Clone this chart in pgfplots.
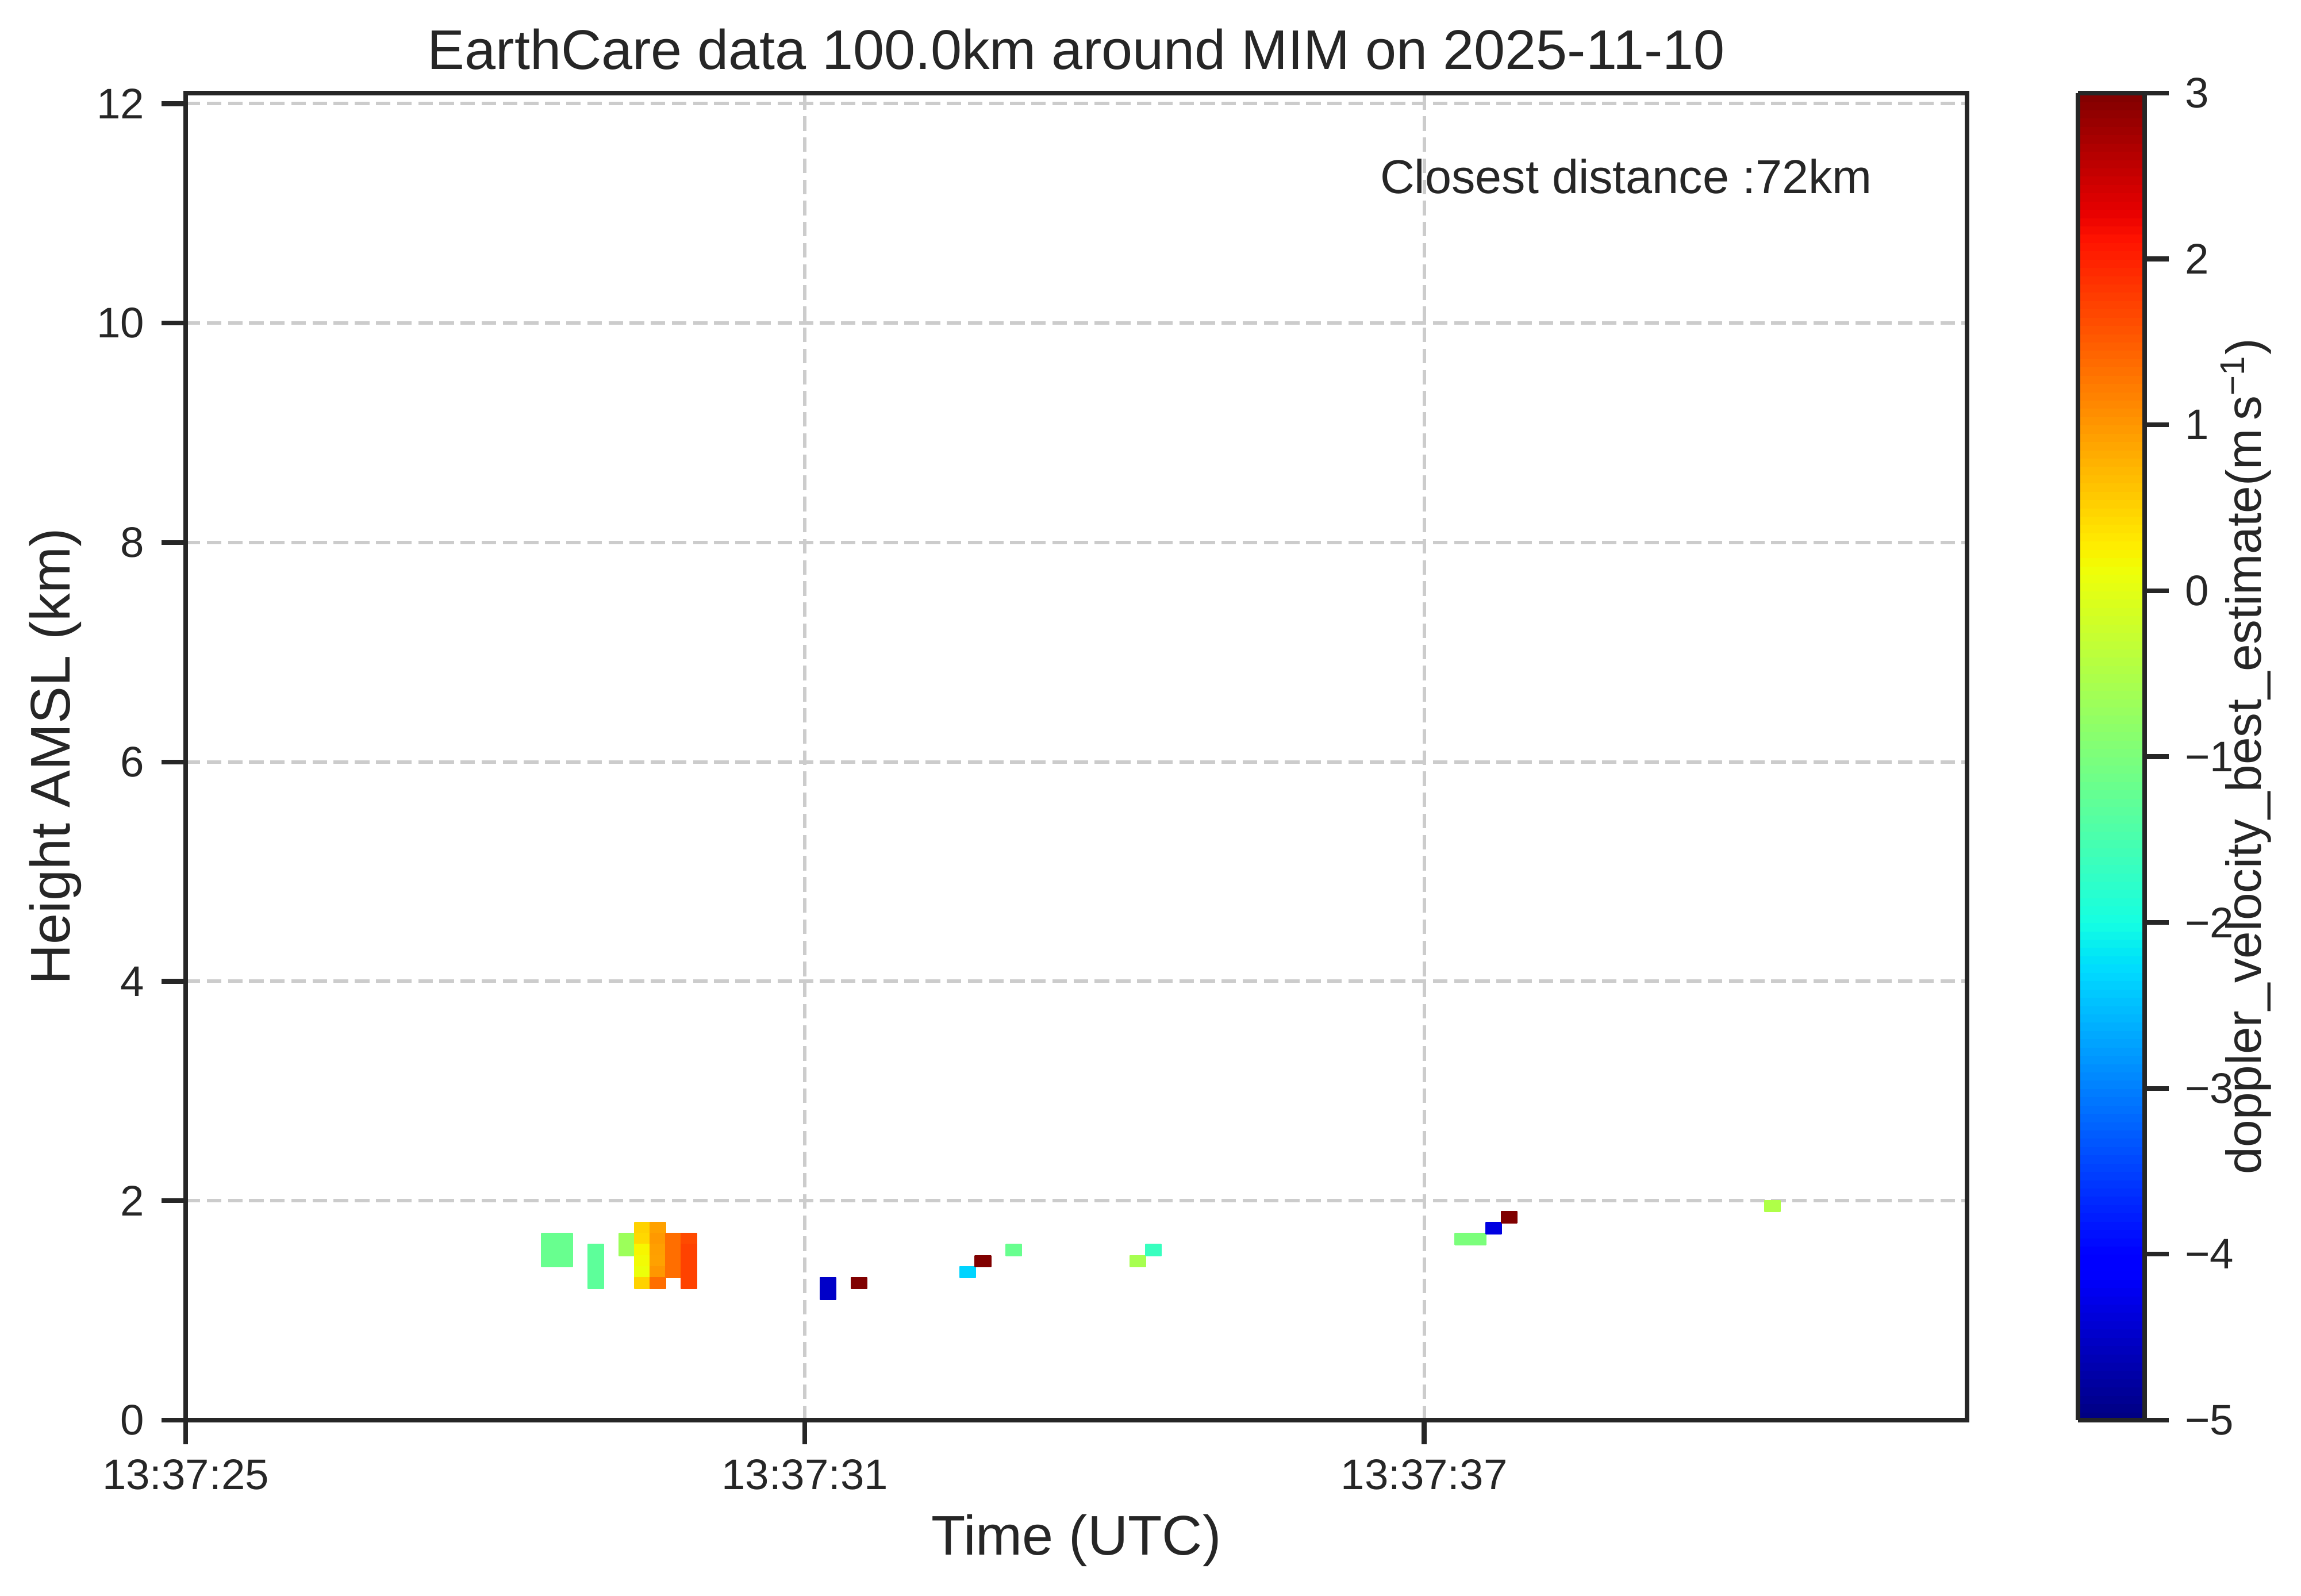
\documentclass[border=0pt]{standalone}
\usepackage{fontspec}
\setmainfont{Liberation Sans}
\usepackage{pgfplots}
\usepgfplotslibrary{patchplots}
\pgfplotsset{compat=1.18}
\definecolor{axcol}{HTML}{262626}
\definecolor{gridcol}{HTML}{CCCCCC}
\newcommand\ticksize{\fontsize{13.4pt}{16pt}\selectfont}
\newcommand\labsize{\fontsize{17.5pt}{21pt}\selectfont}
\newcommand\annsize{\fontsize{14.9pt}{18pt}\selectfont}
\newcommand\cbsize{\fontsize{15.4pt}{19pt}\selectfont}
\pgfplotsset{
  colormap={mjet}{rgb(0pt)=(0,0,0.5); rgb(11pt)=(0,0,1); rgb(12.5pt)=(0,0,1);
    rgb(34pt)=(0,0.86,1); rgb(35pt)=(0,0.9,0.968); rgb(37.5pt)=(0.081,1,0.887);
    rgb(64pt)=(0.935,1,0.032); rgb(65pt)=(0.968,0.963,0); rgb(66pt)=(1,0.926,0);
    rgb(89pt)=(1,0.074,0); rgb(91pt)=(0.909,0,0); rgb(100pt)=(0.5,0,0)}
}
\pgfplotstableread{
t h c
3.45 1.4 -1.19
3.75 1.4 -1.19
3.75 1.7 -1.19
3.45 1.7 -1.19
3.90 1.2 -1.30
4.05 1.2 -1.30
4.05 1.6 -1.30
3.90 1.6 -1.30
4.20 1.5 -0.68
4.35 1.5 -0.68
4.35 1.7 -0.68
4.20 1.7 -0.68
4.35 1.7 0.50
4.50 1.7 0.50
4.50 1.8 0.50
4.35 1.8 0.50
4.35 1.6 0.45
4.50 1.6 0.45
4.50 1.7 0.45
4.35 1.7 0.45
4.35 1.5 0.20
4.50 1.5 0.20
4.50 1.6 0.20
4.35 1.6 0.20
4.35 1.4 0.15
4.50 1.4 0.15
4.50 1.5 0.15
4.35 1.5 0.15
4.35 1.3 0.10
4.50 1.3 0.10
4.50 1.4 0.10
4.35 1.4 0.10
4.35 1.2 0.50
4.50 1.2 0.50
4.50 1.3 0.50
4.35 1.3 0.50
4.50 1.7 0.92
4.65 1.7 0.92
4.65 1.8 0.92
4.50 1.8 0.92
4.50 1.6 0.98
4.65 1.6 0.98
4.65 1.7 0.98
4.50 1.7 0.98
4.50 1.5 0.93
4.65 1.5 0.93
4.65 1.6 0.93
4.50 1.6 0.93
4.50 1.4 0.92
4.65 1.4 0.92
4.65 1.5 0.92
4.50 1.5 0.92
4.50 1.3 1.00
4.65 1.3 1.00
4.65 1.4 1.00
4.50 1.4 1.00
4.50 1.2 1.35
4.65 1.2 1.35
4.65 1.3 1.35
4.50 1.3 1.35
4.65 1.3 1.35
4.80 1.3 1.35
4.80 1.7 1.35
4.65 1.7 1.35
4.80 1.6 1.65
4.95 1.6 1.65
4.95 1.7 1.65
4.80 1.7 1.65
4.80 1.2 1.72
4.95 1.2 1.72
4.95 1.6 1.72
4.80 1.6 1.72
6.15 1.1 -4.50
6.30 1.1 -4.50
6.30 1.3 -4.50
6.15 1.3 -4.50
6.45 1.2 3.00
6.60 1.2 3.00
6.60 1.3 3.00
6.45 1.3 3.00
7.50 1.3 -2.34
7.65 1.3 -2.34
7.65 1.4 -2.34
7.50 1.4 -2.34
7.65 1.4 3.00
7.80 1.4 3.00
7.80 1.5 3.00
7.65 1.5 3.00
7.95 1.5 -1.19
8.10 1.5 -1.19
8.10 1.6 -1.19
7.95 1.6 -1.19
9.15 1.4 -0.58
9.30 1.4 -0.58
9.30 1.5 -0.58
9.15 1.5 -0.58
9.30 1.5 -1.66
9.45 1.5 -1.66
9.45 1.6 -1.66
9.30 1.6 -1.66
12.30 1.6 -1.00
12.60 1.6 -1.00
12.60 1.7 -1.00
12.30 1.7 -1.00
12.60 1.7 -4.33
12.75 1.7 -4.33
12.75 1.8 -4.33
12.60 1.8 -4.33
12.75 1.8 3.00
12.90 1.8 3.00
12.90 1.9 3.00
12.75 1.9 3.00
15.30 1.9 -0.50
15.45 1.9 -0.50
15.45 2.0 -0.50
15.30 2.0 -0.50
}\cells
\begin{document}
\begin{tikzpicture}
\useasboundingbox (-58.14pt,-55.08pt) rectangle (662.40pt,444.78pt);
\begin{axis}[
  at={(0pt,0pt)}, anchor=south west,
  scale only axis, width=557.82pt, height=415.62pt,
  xmin=0, xmax=17.26, ymin=0, ymax=12.097,
  clip=false,
  axis line style={draw=axcol, line width=1.5pt},
  tick pos=left, tick align=outside,
  major tick length=7.56pt, minor tick num=0,
  tick style={draw=axcol, line width=1.5pt},
  xtick={0,6,12}, xticklabels={13:37:25,13:37:31,13:37:37},
  ytick={0,2,4,6,8,10,12}, yticklabels={0,2,4,6,8,10,12},
  xticklabel style={font=\ticksize, text=axcol, anchor=north, inner sep=0pt, yshift=-4.5pt},
  yticklabel style={font=\ticksize, text=axcol, anchor=east, inner sep=0pt, xshift=-5.2pt},
  grid=major,
  major grid style={draw=gridcol, line width=1.08pt, dash pattern=on 4.55pt off 2.07pt},
  colormap name=mjet, point meta min=-5, point meta max=3,
  colorbar sampled,
  colorbar style={
    at={(parent axis.north east)}, anchor=north west, xshift=26.2pt,
    width=20.88pt,
    samples=161,
    ytick={-5,-4,-3,-2,-1,0,1,2,3},
    yticklabels={−5,−4,−3,−2,−1,0,1,2,3},
    axis line style={draw=axcol, line width=1.5pt},
    major tick length=7.56pt, tick align=outside,
    ytick pos=right, yticklabel pos=right,
    ytick style={draw=axcol, line width=1.5pt},
    yticklabel style={font=\ticksize, text=axcol, anchor=west, inner sep=0pt, xshift=4.86pt},
  },
]
\addplot[patch, patch type=rectangle, shader=flat, point meta=explicit]
  table[x=t, y=h, meta=c] {\cells};
\end{axis}
\node[anchor=base, text=axcol, font=\labsize, inner sep=0pt] at (278.91pt,423.05pt) {EarthCare data 100.0km around MIM on 2025-11-10};
\node[anchor=base, text=axcol, font=\labsize, inner sep=0pt] at (278.91pt,-42.30pt) {Time (UTC)};
\node[anchor=base, rotate=90, text=axcol, font=\labsize, inner sep=0pt] at (-36.18pt,207.81pt) {Height AMSL (km)};
\node[anchor=north east, text=axcol, font=\annsize, inner sep=0pt] at (528.30pt,395.28pt) {Closest distance :72km};
\node[anchor=base, rotate=90, text=axcol, font=\cbsize, inner sep=0pt] at (649.80pt,207.81pt) {doppler\_velocity\_best\_estimate(m\,s\textsuperscript{−1})};
\end{tikzpicture}
\end{document}
